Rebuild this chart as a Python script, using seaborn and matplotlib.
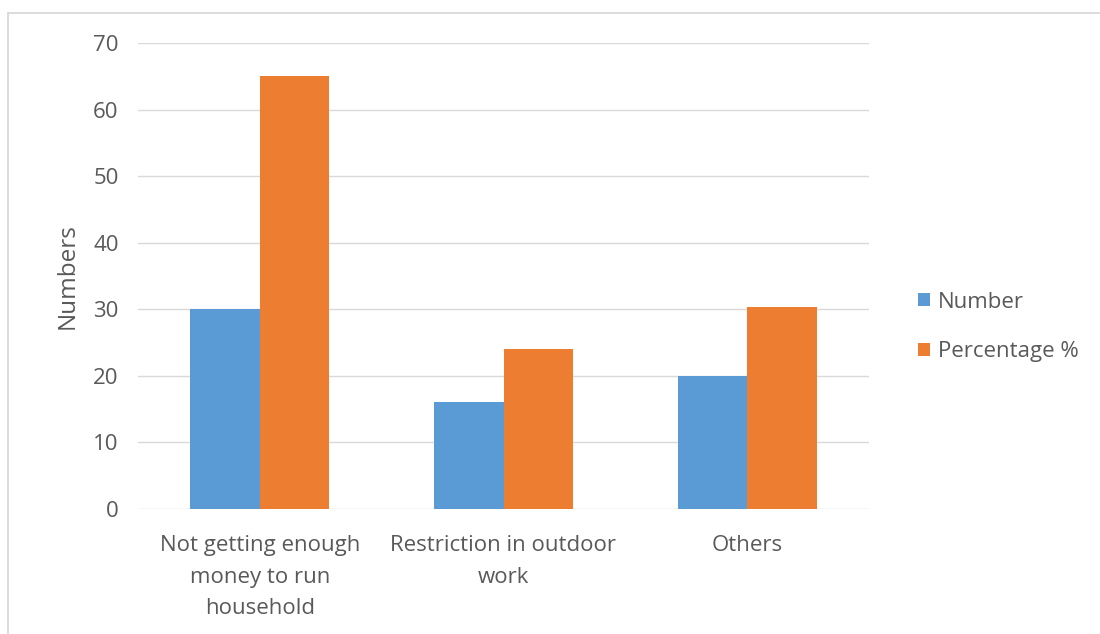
import matplotlib
matplotlib.use("Agg")
import matplotlib.pyplot as plt
from matplotlib.lines import Line2D
from matplotlib.patches import Patch
import seaborn as sns
import pandas as pd

categories = ["Not getting enough\nmoney to run\nhousehold",
              "Restriction in outdoor\nwork",
              "Others"]
number_values = [30, 16, 20]
percentage_values = [65, 24, 30.3]
series_names = ["Number", "Percentage %"]
y_ticks = [0, 10, 20, 30, 40, 50, 60, 70]

colors = ["#5B9BD5", "#ED7D31"]
text_color = "#595959"
grid_color = "#D9D9D9"

df = pd.DataFrame({
    "category": categories * 2,
    "series": [series_names[0]] * 3 + [series_names[1]] * 3,
    "value": number_values + percentage_values,
})

sns.set_theme(style="white")
plt.rcParams["font.family"] = ["Open Sans", "DejaVu Sans"]

W, H = 1100, 634
fig = plt.figure(figsize=(W / 100, H / 100), dpi=100)
ax = fig.add_axes([138 / W, 1 - 509 / H, (869 - 138) / W, (509 - 43) / H])

sns.barplot(data=df, x="category", y="value", hue="series",
            palette=colors, width=0.57, saturation=1, gap=0,
            ax=ax, legend=False, linewidth=0)

ax.set_ylim(0, 70)
ax.set_xlim(-0.5, 2.5)
ax.set_yticks(y_ticks)
ax.set_yticklabels([str(t) for t in y_ticks])
ax.yaxis.grid(True, color=grid_color, linewidth=1)
ax.set_axisbelow(True)
for s in ax.spines.values():
    s.set_visible(False)
ax.tick_params(axis="both", length=0, colors=text_color, labelsize=16)
ax.tick_params(axis="y", pad=14)
ax.tick_params(axis="x", pad=19)
for lbl in ax.get_xticklabels():
    lbl.set_linespacing(1.65)
ax.set_xlabel("")
ax.set_ylabel("Numbers", color=text_color, fontsize=17.5, labelpad=10)

handles = [Patch(facecolor=c, edgecolor="none") for c in colors]
fig.legend(handles, series_names, loc="center left",
           bbox_to_anchor=(898 / W, 1 - 327 / H), frameon=False,
           fontsize=16, labelcolor=text_color, handlelength=0.55,
           handleheight=0.55, handletextpad=0.35, labelspacing=1.3)

# thin frame along the top and left edges of the chart area
fig.add_artist(Line2D([8 / W, 1], [1 - 12.5 / H, 1 - 12.5 / H],
                      transform=fig.transFigure, color="#D6D6D6", linewidth=1.2))
fig.add_artist(Line2D([8 / W, 8 / W], [0, 1 - 12.5 / H],
                      transform=fig.transFigure, color="#D6D6D6", linewidth=1.2))

fig.savefig("out.png", dpi=100, facecolor="white")
